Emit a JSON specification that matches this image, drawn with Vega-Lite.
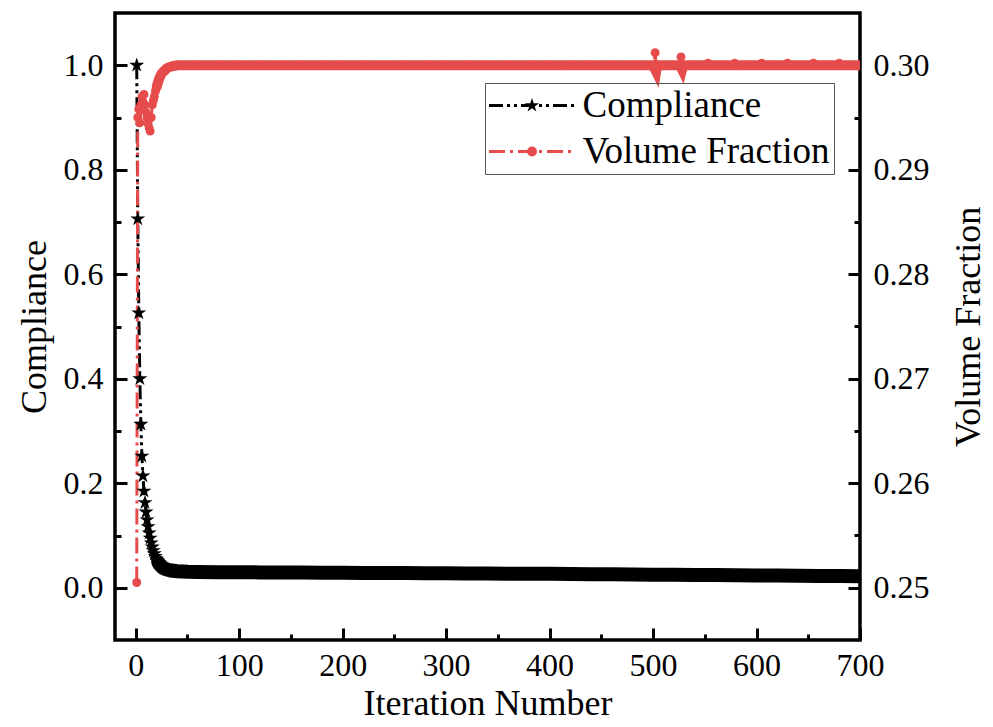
{
  "$schema": "https://vega.github.io/schema/vega-lite/v6.json",
  "autosize": {"type": "none"},
  "width": 745,
  "height": 627,
  "padding": {"left": 115, "top": 13, "right": 133, "bottom": 87},
  "background": "white",
  "datasets": {
    "conv": [
      {"it": 1, "series": "Compliance", "value": 1.0},
      {"it": 2, "series": "Compliance", "value": 0.706},
      {"it": 3, "series": "Compliance", "value": 0.526},
      {"it": 4, "series": "Compliance", "value": 0.400},
      {"it": 5, "series": "Compliance", "value": 0.313},
      {"it": 6, "series": "Compliance", "value": 0.252},
      {"it": 7, "series": "Compliance", "value": 0.214},
      {"it": 8, "series": "Compliance", "value": 0.185},
      {"it": 9, "series": "Compliance", "value": 0.163},
      {"it": 10, "series": "Compliance", "value": 0.145},
      {"it": 11, "series": "Compliance", "value": 0.130},
      {"it": 12, "series": "Compliance", "value": 0.117},
      {"it": 13, "series": "Compliance", "value": 0.105},
      {"it": 14, "series": "Compliance", "value": 0.095},
      {"it": 15, "series": "Compliance", "value": 0.086},
      {"it": 16, "series": "Compliance", "value": 0.078},
      {"it": 17, "series": "Compliance", "value": 0.071},
      {"it": 18, "series": "Compliance", "value": 0.065},
      {"it": 19, "series": "Compliance", "value": 0.060},
      {"it": 20, "series": "Compliance", "value": 0.055},
      {"it": 21, "series": "Compliance", "value": 0.051},
      {"it": 22, "series": "Compliance", "value": 0.048},
      {"it": 23, "series": "Compliance", "value": 0.045},
      {"it": 24, "series": "Compliance", "value": 0.043},
      {"it": 25, "series": "Compliance", "value": 0.041},
      {"it": 26, "series": "Compliance", "value": 0.039},
      {"it": 27, "series": "Compliance", "value": 0.038},
      {"it": 28, "series": "Compliance", "value": 0.037},
      {"it": 29, "series": "Compliance", "value": 0.036},
      {"it": 30, "series": "Compliance", "value": 0.035},
      {"it": 32, "series": "Compliance", "value": 0.034},
      {"it": 34, "series": "Compliance", "value": 0.033},
      {"it": 36, "series": "Compliance", "value": 0.0325},
      {"it": 38, "series": "Compliance", "value": 0.032},
      {"it": 40, "series": "Compliance", "value": 0.0315},
      {"it": 45, "series": "Compliance", "value": 0.031},
      {"it": 50, "series": "Compliance", "value": 0.0305},
      {"it": 60, "series": "Compliance", "value": 0.0300},
      {"it": 80, "series": "Compliance", "value": 0.0298},
      {"it": 100, "series": "Compliance", "value": 0.0296},
      {"it": 120, "series": "Compliance", "value": 0.0294},
      {"it": 140, "series": "Compliance", "value": 0.0292},
      {"it": 160, "series": "Compliance", "value": 0.0290},
      {"it": 180, "series": "Compliance", "value": 0.0288},
      {"it": 200, "series": "Compliance", "value": 0.0286},
      {"it": 220, "series": "Compliance", "value": 0.0284},
      {"it": 240, "series": "Compliance", "value": 0.0282},
      {"it": 260, "series": "Compliance", "value": 0.0280},
      {"it": 280, "series": "Compliance", "value": 0.0278},
      {"it": 300, "series": "Compliance", "value": 0.0276},
      {"it": 320, "series": "Compliance", "value": 0.0274},
      {"it": 340, "series": "Compliance", "value": 0.0272},
      {"it": 360, "series": "Compliance", "value": 0.0270},
      {"it": 380, "series": "Compliance", "value": 0.0268},
      {"it": 400, "series": "Compliance", "value": 0.0266},
      {"it": 420, "series": "Compliance", "value": 0.0263},
      {"it": 440, "series": "Compliance", "value": 0.0260},
      {"it": 460, "series": "Compliance", "value": 0.0257},
      {"it": 480, "series": "Compliance", "value": 0.0254},
      {"it": 500, "series": "Compliance", "value": 0.0251},
      {"it": 520, "series": "Compliance", "value": 0.0248},
      {"it": 540, "series": "Compliance", "value": 0.0245},
      {"it": 560, "series": "Compliance", "value": 0.0242},
      {"it": 580, "series": "Compliance", "value": 0.0239},
      {"it": 600, "series": "Compliance", "value": 0.0236},
      {"it": 620, "series": "Compliance", "value": 0.0233},
      {"it": 640, "series": "Compliance", "value": 0.0230},
      {"it": 660, "series": "Compliance", "value": 0.0227},
      {"it": 680, "series": "Compliance", "value": 0.0224},
      {"it": 700, "series": "Compliance", "value": 0.0221},
      {"it": 1, "series": "Volume Fraction", "value": 0.2505},
      {"it": 2, "series": "Volume Fraction", "value": 0.2950},
      {"it": 3, "series": "Volume Fraction", "value": 0.2958},
      {"it": 4, "series": "Volume Fraction", "value": 0.2945},
      {"it": 5, "series": "Volume Fraction", "value": 0.2962},
      {"it": 6, "series": "Volume Fraction", "value": 0.2970},
      {"it": 7, "series": "Volume Fraction", "value": 0.2965},
      {"it": 8, "series": "Volume Fraction", "value": 0.2972},
      {"it": 9, "series": "Volume Fraction", "value": 0.2962},
      {"it": 10, "series": "Volume Fraction", "value": 0.2955},
      {"it": 11, "series": "Volume Fraction", "value": 0.2950},
      {"it": 12, "series": "Volume Fraction", "value": 0.2944},
      {"it": 13, "series": "Volume Fraction", "value": 0.2940},
      {"it": 14, "series": "Volume Fraction", "value": 0.2937},
      {"it": 15, "series": "Volume Fraction", "value": 0.2950},
      {"it": 16, "series": "Volume Fraction", "value": 0.2962},
      {"it": 17, "series": "Volume Fraction", "value": 0.2966},
      {"it": 18, "series": "Volume Fraction", "value": 0.2970},
      {"it": 19, "series": "Volume Fraction", "value": 0.2975},
      {"it": 20, "series": "Volume Fraction", "value": 0.2978},
      {"it": 21, "series": "Volume Fraction", "value": 0.2982},
      {"it": 22, "series": "Volume Fraction", "value": 0.2985},
      {"it": 23, "series": "Volume Fraction", "value": 0.2988},
      {"it": 24, "series": "Volume Fraction", "value": 0.2990},
      {"it": 25, "series": "Volume Fraction", "value": 0.2992},
      {"it": 26, "series": "Volume Fraction", "value": 0.2993},
      {"it": 27, "series": "Volume Fraction", "value": 0.2994},
      {"it": 28, "series": "Volume Fraction", "value": 0.2995},
      {"it": 30, "series": "Volume Fraction", "value": 0.2997},
      {"it": 32, "series": "Volume Fraction", "value": 0.2998},
      {"it": 35, "series": "Volume Fraction", "value": 0.2999},
      {"it": 40, "series": "Volume Fraction", "value": 0.3000},
      {"it": 60, "series": "Volume Fraction", "value": 0.3000},
      {"it": 80, "series": "Volume Fraction", "value": 0.3000},
      {"it": 100, "series": "Volume Fraction", "value": 0.3000},
      {"it": 120, "series": "Volume Fraction", "value": 0.3000},
      {"it": 140, "series": "Volume Fraction", "value": 0.3000},
      {"it": 160, "series": "Volume Fraction", "value": 0.3000},
      {"it": 180, "series": "Volume Fraction", "value": 0.3000},
      {"it": 200, "series": "Volume Fraction", "value": 0.3000},
      {"it": 220, "series": "Volume Fraction", "value": 0.3000},
      {"it": 240, "series": "Volume Fraction", "value": 0.3000},
      {"it": 260, "series": "Volume Fraction", "value": 0.3000},
      {"it": 280, "series": "Volume Fraction", "value": 0.3000},
      {"it": 300, "series": "Volume Fraction", "value": 0.3000},
      {"it": 320, "series": "Volume Fraction", "value": 0.3000},
      {"it": 340, "series": "Volume Fraction", "value": 0.3000},
      {"it": 360, "series": "Volume Fraction", "value": 0.3000},
      {"it": 380, "series": "Volume Fraction", "value": 0.3000},
      {"it": 400, "series": "Volume Fraction", "value": 0.3000},
      {"it": 420, "series": "Volume Fraction", "value": 0.3000},
      {"it": 440, "series": "Volume Fraction", "value": 0.3000},
      {"it": 460, "series": "Volume Fraction", "value": 0.3000},
      {"it": 480, "series": "Volume Fraction", "value": 0.3000},
      {"it": 500, "series": "Volume Fraction", "value": 0.3000},
      {"it": 502, "series": "Volume Fraction", "value": 0.3012},
      {"it": 503, "series": "Volume Fraction", "value": 0.2994},
      {"it": 504, "series": "Volume Fraction", "value": 0.3000},
      {"it": 520, "series": "Volume Fraction", "value": 0.3000},
      {"it": 526, "series": "Volume Fraction", "value": 0.3000},
      {"it": 527, "series": "Volume Fraction", "value": 0.3008},
      {"it": 528, "series": "Volume Fraction", "value": 0.2996},
      {"it": 529, "series": "Volume Fraction", "value": 0.3000},
      {"it": 540, "series": "Volume Fraction", "value": 0.3000},
      {"it": 553, "series": "Volume Fraction", "value": 0.3002},
      {"it": 565, "series": "Volume Fraction", "value": 0.3000},
      {"it": 579, "series": "Volume Fraction", "value": 0.3002},
      {"it": 592, "series": "Volume Fraction", "value": 0.3000},
      {"it": 605, "series": "Volume Fraction", "value": 0.3002},
      {"it": 617, "series": "Volume Fraction", "value": 0.3000},
      {"it": 630, "series": "Volume Fraction", "value": 0.3002},
      {"it": 642, "series": "Volume Fraction", "value": 0.3000},
      {"it": 655, "series": "Volume Fraction", "value": 0.3002},
      {"it": 667, "series": "Volume Fraction", "value": 0.3000},
      {"it": 680, "series": "Volume Fraction", "value": 0.3002},
      {"it": 700, "series": "Volume Fraction", "value": 0.3000}
    ]
  },
  "data": {"name": "conv"},
  "layer": [
    {
      "transform": [{"filter": "datum.series === 'Compliance'"}],
      "mark": {"type": "line", "strokeWidth": 3, "clip": true},
      "encoding": {
        "x": {"field": "it", "type": "quantitative", "scale": {"domain": [-20, 700], "nice": false, "zero": false},
          "axis": {"orient": "bottom", "values": [0, 100, 200, 300, 400, 500, 600, 700], "tickSize": -12, "labelPadding": 22, "title": "Iteration Number", "titlePadding": 5}},
        "y": {"field": "value", "type": "quantitative", "scale": {"domain": [-0.1, 1.1], "nice": false, "zero": false},
          "axis": {"orient": "left", "values": [0, 0.2, 0.4, 0.6, 0.8, 1.0], "format": ".1f", "tickSize": -12, "labelPadding": 24, "title": "Compliance", "titlePadding": 10}},
        "color": {"field": "series", "type": "nominal", "scale": {"range": ["#000000", "#e64c4c"]},
          "legend": {"orient": "none", "legendX": 370, "legendY": 70, "padding": 4, "strokeColor": "#555555", "title": null,
            "symbolType": "M-4.3,0H4.3", "symbolSize": 400, "symbolStrokeWidth": 3, "symbolOffset": 24.5, "labelOffset": 32, "rowPadding": 8,
            "labelFontSize": 37, "labelLimit": 400, "labelFont": "Liberation Serif", "labelColor": "#000000"}},
        "strokeDash": {"field": "series", "type": "nominal", "scale": {"range": [[14, 4, 3, 4, 3, 4], [16, 5, 3, 5]]}}
      }
    },
    {
      "transform": [{"filter": "datum.series === 'Volume Fraction'"}],
      "mark": {"type": "line", "strokeWidth": 3, "clip": true},
      "encoding": {
        "x": {"field": "it", "type": "quantitative", "scale": {"domain": [-20, 700], "nice": false, "zero": false}, "axis": null},
        "y": {"field": "value", "type": "quantitative", "scale": {"domain": [0.245, 0.305], "nice": false, "zero": false},
          "axis": {"orient": "right", "values": [0.25, 0.26, 0.27, 0.28, 0.29, 0.30], "format": ".2f", "tickSize": -12, "labelPadding": 25, "title": "Volume Fraction", "titleAngle": -90, "titleBaseline": "top", "titlePadding": 22}},
        "color": {"field": "series", "type": "nominal"},
        "strokeDash": {"field": "series", "type": "nominal"}
      }
    },
    {
      "transform": [{"filter": "datum.series === 'Volume Fraction' && datum.it >= 20 && datum.value <= 0.30005 && datum.value >= 0.2977"}],
      "mark": {"type": "line", "strokeWidth": 10, "color": "#e64c4c", "clip": true},
      "encoding": {
        "x": {"field": "it", "type": "quantitative", "scale": {"domain": [-20, 700], "nice": false, "zero": false},
          "axis": {"orient": "bottom", "values": [50, 150, 250, 350, 450, 550, 650], "labels": false, "tickSize": -6, "title": null}},
        "y": {"field": "value", "type": "quantitative", "scale": {"domain": [0.245, 0.305], "nice": false, "zero": false},
          "axis": {"orient": "right", "values": [0.255, 0.265, 0.275, 0.285, 0.295], "labels": false, "tickSize": -6, "title": null}}
      }
    },
    {
      "transform": [{"filter": "datum.series === 'Volume Fraction'"}],
      "mark": {"type": "point", "filled": true, "size": 80, "opacity": 1, "clip": true},
      "encoding": {
        "x": {"field": "it", "type": "quantitative", "scale": {"domain": [-20, 700], "nice": false, "zero": false}, "axis": null},
        "y": {"field": "value", "type": "quantitative", "scale": {"domain": [0.245, 0.305], "nice": false, "zero": false}, "axis": null},
        "fill": {"field": "series", "type": "nominal", "scale": {"domain": ["Compliance", "Volume Fraction"], "range": ["#000000", "#e64c4c"]},
          "legend": {"orient": "none", "legendX": 370, "legendY": 70, "padding": 4, "title": null,
            "symbolSize": 100, "symbolStrokeWidth": 0, "symbolOffset": 24.5, "labelOffset": 32, "rowPadding": 8,
            "labelFontSize": 37, "labelLimit": 400, "labelFont": "Liberation Serif", "labelOpacity": 0}},
        "shape": {"field": "series", "type": "nominal",
          "scale": {"domain": ["Compliance", "Volume Fraction"], "range": ["M0,-1.5L0.337,-0.464L1.427,-0.464L0.545,0.177L0.882,1.214L0,0.573L-0.882,1.214L-0.545,0.177L-1.427,-0.464L-0.337,-0.464Z", "circle"]},
          "legend": {"orient": "none", "legendX": 370, "legendY": 70, "padding": 4, "title": null,
            "symbolSize": 100, "symbolStrokeWidth": 0, "symbolOffset": 24.5, "labelOffset": 32, "rowPadding": 8,
            "labelFontSize": 37, "labelLimit": 400, "labelFont": "Liberation Serif", "labelOpacity": 0}}
      }
    },
    {
      "transform": [{"filter": "datum.series === 'Compliance' && datum.it >= 22"}],
      "mark": {"type": "line", "strokeWidth": 14, "color": "#000000", "strokeCap": "round", "clip": true},
      "encoding": {
        "x": {"field": "it", "type": "quantitative", "scale": {"domain": [-20, 700], "nice": false, "zero": false}, "axis": null},
        "y": {"field": "value", "type": "quantitative", "scale": {"domain": [-0.1, 1.1], "nice": false, "zero": false},
          "axis": {"orient": "left", "values": [0.1, 0.3, 0.5, 0.7, 0.9], "labels": false, "tickSize": -6, "title": null}}
      }
    },
    {
      "transform": [{"filter": "datum.series === 'Compliance' && datum.it <= 50"}],
      "mark": {"type": "point", "filled": true, "size": 110, "opacity": 1, "clip": true},
      "encoding": {
        "x": {"field": "it", "type": "quantitative", "scale": {"domain": [-20, 700], "nice": false, "zero": false}, "axis": null},
        "y": {"field": "value", "type": "quantitative", "scale": {"domain": [-0.1, 1.1], "nice": false, "zero": false}, "axis": null},
        "fill": {"field": "series", "type": "nominal"},
        "shape": {"field": "series", "type": "nominal"}
      }
    }
  ],
  "resolve": {"scale": {"y": "independent"}, "axis": {"x": "independent", "y": "independent"}},
  "config": {
    "font": "Liberation Serif",
    "view": {"stroke": "#000000", "strokeWidth": 3.5},
    "axis": {
      "grid": false, "domain": false,
      "labelFont": "Liberation Serif", "labelFontSize": 32, "labelColor": "#000000",
      "titleFont": "Liberation Serif", "titleFontSize": 36, "titleFontWeight": "normal", "titleColor": "#000000",
      "tickColor": "#000000", "tickWidth": 3,
      "labelOverlap": false, "labelFlush": false, "labelBound": false
    }
  }
}
